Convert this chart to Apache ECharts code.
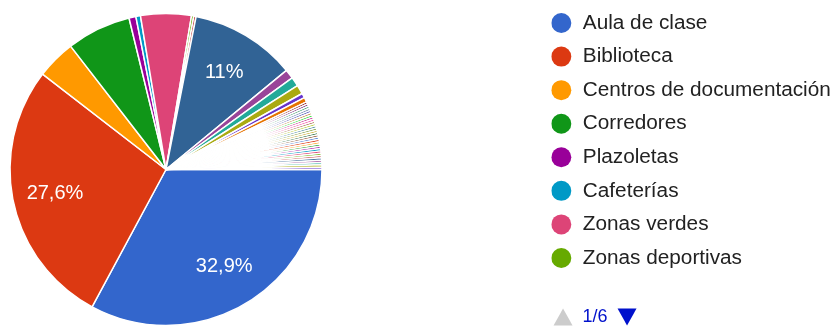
<!DOCTYPE html>
<html><head><meta charset="utf-8">
<script src="https://cdn.jsdelivr.net/npm/echarts@6/dist/echarts.min.js"></script>
<style>html,body{margin:0;padding:0;background:#fff}#c{width:833px;height:326px}</style>
</head><body><div id="c"></div>
<script>
const categories = [
  'Aula de clase', 'Biblioteca', 'Centros de documentación', 'Corredores',
  'Plazoletas', 'Cafeterías', 'Zonas verdes', 'Zonas deportivas',
  'Otra respuesta 1', 'Otra respuesta 2', 'Otra respuesta 3', 'Otra respuesta 4',
  'Otra respuesta 5', 'Otra respuesta 6', 'Otra respuesta 7', 'Otra respuesta 8',
  'Otra respuesta 9', 'Otra respuesta 10', 'Otra respuesta 11', 'Otra respuesta 12',
  'Otra respuesta 13', 'Otra respuesta 14', 'Otra respuesta 15', 'Otra respuesta 16',
  'Otra respuesta 17', 'Otra respuesta 18', 'Otra respuesta 19', 'Otra respuesta 20',
  'Otra respuesta 21', 'Otra respuesta 22', 'Otra respuesta 23', 'Otra respuesta 24',
  'Otra respuesta 25', 'Otra respuesta 26', 'Otra respuesta 27', 'Otra respuesta 28',
  'Otra respuesta 29', 'Otra respuesta 30', 'Otra respuesta 31', 'Otra respuesta 32',
  'Otra respuesta 33', 'Otra respuesta 34', 'Otra respuesta 35', 'Otra respuesta 36',
  'Otra respuesta 37'
];
const responses = [
  138, 116, 17, 28, 3, 2, 22, 1,
  1, 46, 4, 4, 4, 2, 2, 1,
  1, 1, 1, 1, 1, 1, 1, 1,
  1, 1, 1, 1, 1, 1, 1, 1,
  1, 1, 1, 1, 1, 1, 1, 1,
  1, 1, 1, 1, 1
];
const palette = ['#3366cc','#dc3912','#ff9900','#109618','#990099','#0099c6','#dd4477','#66aa00',
  '#b82e2e','#316395','#994499','#22aa99','#aaaa11','#6633cc','#e67300','#8b0707','#651067',
  '#329262','#5574a6','#3b3eac','#b77322','#16d620','#b91383','#f4359e','#9c5935','#a9c413',
  '#2a778d','#668d1c','#bea413','#0c5922','#743411'];

const total = responses.reduce((a, b) => a + b, 0);
const pieData = categories.map((n, i) => ({ name: n, value: responses[i] }));
const font = "'Liberation Sans', Arial, sans-serif";
const center = [166, 169.5];
const R = 156;

const chart = echarts.init(document.getElementById('c'), null, { renderer: 'canvas' });
chart.setOption({
  animation: false,
  color: palette,
  legend: {
    type: 'scroll', orient: 'vertical', left: 551.3, top: 8, bottom: 1, padding: 0,
    itemWidth: 33, itemHeight: 20, itemGap: 3.57, icon: 'circle',
    itemStyle: { borderWidth: 0 },
    textStyle: { fontFamily: font, fontSize: 20.75, color: '#222222', lineHeight: 30, backgroundColor: 'transparent' },
    // the down arrow path carries an empty segment on its right so the pager sits left
    pageIcons: { vertical: ['path://M0,17L9.5,0L19,17Z', 'path://M0,0L19,0L9.5,17Z M211,8L211,8'] },
    pageIconSize: [211, 17], pageIconColor: '#0011cc', pageIconInactiveColor: '#cccccc',
    pageTextStyle: { color: '#0011cc', fontSize: 18, fontFamily: font },
    pageButtonItemGap: 2, pageButtonGap: 28,
    data: categories
  },
  series: [
    {
      type: 'pie', center: center, radius: [0, R], startAngle: 0, clockwise: true,
      data: pieData, label: { show: false }, labelLine: { show: false },
      itemStyle: { borderColor: '#ffffff', borderWidth: 1.5 },
      emphasis: { disabled: true }
    },
    {
      type: 'pie', center: center, radius: [65, R], startAngle: 0, clockwise: true,
      data: pieData, silent: true, tooltip: { show: false },
      itemStyle: { color: 'rgba(0,0,0,0)', borderWidth: 0 },
      labelLine: { show: false }, emphasis: { disabled: true },
      label: {
        show: true, position: 'inside', color: '#ffffff', fontFamily: font, fontSize: 20,
        formatter: p => {
          const pct = p.value / total * 100;
          if (pct < 10) return '';
          return String(Math.round(pct * 10) / 10).replace('.', ',') + '%';
        }
      }
    }
  ]
});
</script></body></html>
